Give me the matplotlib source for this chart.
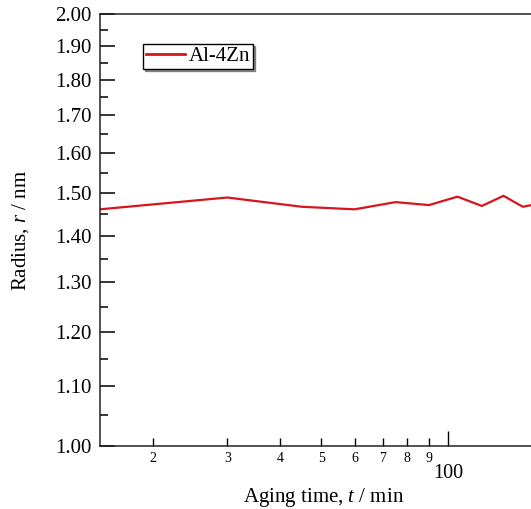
import matplotlib
matplotlib.use("Agg")
import matplotlib.pyplot as plt
from matplotlib.ticker import FixedLocator, FixedFormatter, NullFormatter

plt.rcParams['font.family'] = ['Liberation Serif', 'DejaVu Serif']
plt.rcParams['mathtext.fontset'] = 'custom'
plt.rcParams['mathtext.it'] = 'Liberation Serif:italic'
plt.rcParams['mathtext.rm'] = 'Liberation Serif'

# data
aging_time = [15, 30, 45, 60, 75, 90, 105, 120, 135, 150, 165]
radius = [1.462, 1.490, 1.468, 1.462, 1.479, 1.472, 1.492, 1.470, 1.494, 1.468, 1.476]
series_label = "Al-4Zn"

y_major = [1.00, 1.10, 1.20, 1.30, 1.40, 1.50, 1.60, 1.70, 1.80, 1.90, 2.00]
y_minor = [1.05, 1.15, 1.25, 1.35, 1.45, 1.55, 1.65, 1.75, 1.85, 1.95]
x_major = [100]
x_major_labels = ["100"]
x_minor = [20, 30, 40, 50, 60, 70, 80, 90]
x_minor_labels = ["2", "3", "4", "5", "6", "7", "8", "9"]

W, H = 531, 509
fig = plt.figure(figsize=(W / 100, H / 100), dpi=100)
left_px, right_px, top_px, bot_px = 100, 548, 14.3, 445.7
ax = fig.add_axes([left_px / W, (H - bot_px) / H, (right_px - left_px) / W, (bot_px - top_px) / H])

ax.plot(aging_time, radius, color='#d8141c', lw=1.6, label=series_label)

ax.set_xscale('log')
ax.set_yscale('log')
ax.set_xlim(15.0, 172.0)
ax.set_ylim(1.0, 2.0)

ax.yaxis.set_major_locator(FixedLocator(y_major))
ax.yaxis.set_major_formatter(FixedFormatter([f"{v:.2f}" for v in y_major]))
ax.yaxis.set_minor_locator(FixedLocator(y_minor))
ax.yaxis.set_minor_formatter(NullFormatter())

ax.xaxis.set_major_locator(FixedLocator(x_major))
ax.xaxis.set_major_formatter(FixedFormatter(x_major_labels))
ax.xaxis.set_minor_locator(FixedLocator(x_minor))
ax.xaxis.set_minor_formatter(FixedFormatter(x_minor_labels))

for s in ax.spines.values():
    s.set_linewidth(1.1)
    s.set_color('#222222')
ax.spines['right'].set_visible(False)

ax.tick_params(axis='y', which='major', direction='in', length=11, width=1.1,
               labelsize=15, pad=5.8, right=False)
ax.tick_params(axis='y', which='minor', direction='in', length=5.5, width=1.1, right=False)
ax.tick_params(axis='x', which='major', direction='in', length=11, width=1.0,
               labelsize=14.5, pad=13.5, top=False)
ax.tick_params(axis='x', which='minor', direction='in', length=5.5, width=1.0,
               labelsize=10, pad=4.8, top=False)

ax.set_ylabel("Radius, $\\mathit{r}$ / nm", fontsize=15)
ax.yaxis.set_label_coords(-0.155, 0.5)
ax.set_xlabel("Aging time, $\\mathit{t}$ / min", fontsize=15)
ax.xaxis.set_label_coords(0.5, -0.093)

leg = ax.legend(loc='upper left', bbox_to_anchor=(0.096, 0.931), borderaxespad=0,
                fancybox=False, shadow={'ox': 1.5, 'oy': -1.5, 'color': '#333333'},
                edgecolor='black', framealpha=1, fontsize=15, handlelength=1.9,
                handletextpad=0.2, borderpad=0.12)
leg.get_frame().set_linewidth(1.0)
leg.get_lines()[0].set_linewidth(2.0)

fig.savefig("out.png", dpi=100)
